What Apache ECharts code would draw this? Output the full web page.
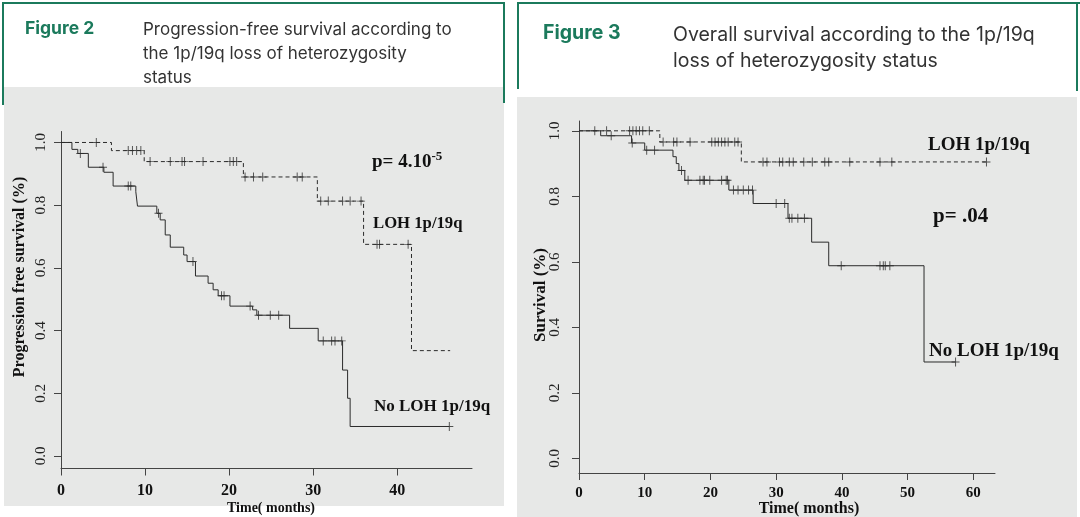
<!DOCTYPE html>
<html>
<head>
<meta charset="utf-8">
<script src="https://cdn.jsdelivr.net/npm/echarts@6/dist/echarts.min.js"></script>
<style>
html,body{margin:0;padding:0;background:#fff;}
#chart{width:1080px;height:517px;}
</style>
</head>
<body>
<div id="chart"></div>
<script>
// ---------- DATA ----------
// Figure 2: Progression-free survival (time in months, survival fraction)
const pfsLohSteps = [[0,1],[6.0,0.974],[9.9,0.939],[21.7,0.89],[30.5,0.813],[36.0,0.675],[41.7,0.336],[46.3,0.336]];
const pfsLohCensor = [4.2,8.0,8.5,9.0,9.5,10.6,13.0,14.4,14.7,16.9,20.1,20.5,20.9,21.9,22.9,24.0,28.1,28.7,30.9,31.8,33.5,34.4,35.7,37.6,37.9,41.3];
const pfsNoLohSteps = [[0,1],[1.3,0.978],[2.0,0.965],[3.25,0.921],[5.1,0.905],[6.2,0.861],[8.9,0.843],[9.1,0.797],[11.4,0.774],[11.8,0.753],[12.4,0.705],[13.0,0.666],[14.6,0.641],[15.0,0.62],[16.0,0.574],[17.5,0.551],[18.1,0.53],[18.7,0.511],[20.1,0.478],[22.8,0.466],[23.3,0.449],[27.2,0.407],[30.6,0.367],[33.5,0.274],[34.1,0.184],[34.4,0.094],[46.2,0.094]];
const pfsNoLohCensor = [2.3,5.0,8.0,8.3,11.6,15.7,19.1,19.4,22.5,23.5,24.9,25.9,31.2,32.2,32.6,33.4,46.2];

// Figure 3: Overall survival
const osLohSteps = [[0,1],[12.3,0.966],[24.7,0.905],[62.0,0.905]];
const osLohCensor = [2.4,4.2,7.7,8.2,8.7,9.2,9.7,10.7,12.8,14.4,14.9,16.9,20.2,20.7,21.2,21.7,22.2,22.7,23.7,24.2,28.0,28.6,30.5,31.0,32.0,32.6,34.2,35.5,37.4,38.0,41.2,45.8,47.6,62.0];
const osNoLohSteps = [[0,1],[3.3,0.985],[8.0,0.963],[10.0,0.941],[14.3,0.921],[14.8,0.9],[15.2,0.879],[16.1,0.849],[22.8,0.819],[26.5,0.778],[31.8,0.733],[35.4,0.66],[38.0,0.588],[52.5,0.294],[57.3,0.294]];
const osNoLohCensor = [4.9,8.1,10.3,11.5,15.6,16.6,18.4,18.9,19.1,19.9,21.7,22.4,22.6,23.5,24.2,25.0,25.8,26.4,30.0,31.3,32.0,32.4,33.3,34.3,39.9,45.8,46.3,46.6,47.3,57.3];

const xTicksPfs = [0,10,20,30,40];
const xTicksOs = [0,10,20,30,40,50,60];
const yTicks = [0,0.2,0.4,0.6,0.8,1.0];

// ---------- HELPERS ----------
function survAt(steps, t){ let s = steps[0][1]; for (const p of steps){ if (p[0] <= t) s = p[1]; else break; } return s; }
function censorPts(steps, times){ return times.map(t => [t, survAt(steps, t)]); }

const GREEN = '#1b7a5c';
const GRAY = '#e7e8e7';
const INK = '#2b2b2b';
const SERIF = '"Liberation Serif", "DejaVu Serif", serif';
const SANS = 'Inter, "Noto Sans", sans-serif';
const PLUS = 'path://M-0.12,-1L0.12,-1L0.12,-0.1L1,-0.1L1,0.1L0.12,0.1L0.12,1L-0.12,1L-0.12,0.1L-1,0.1L-1,-0.1L-0.12,-0.1Z';

function xAxisCfg(grid, max, ticks, fs, margin){
  return {
    gridIndex: grid, type: 'value', min: 0, max: max,
    axisLine: {show: true, onZero: false, lineStyle: {color: '#444', width: 1}},
    axisTick: {show: true, length: 7, customValues: ticks, lineStyle: {color: '#444'}},
    axisLabel: {customValues: ticks, color: '#111', fontFamily: SERIF, fontWeight: 'bold', fontSize: fs, margin: margin},
    splitLine: {show: false}
  };
}
function yAxisCfg(grid, min, max, fs, margin){
  return {
    gridIndex: grid, type: 'value', min: min, max: max,
    axisLine: {show: true, onZero: false, lineStyle: {color: '#444', width: 1}},
    axisTick: {show: true, length: 7, customValues: yTicks, lineStyle: {color: '#444'}},
    axisLabel: {customValues: yTicks, formatter: v => v.toFixed(1), rotate: 90, color: '#222', fontFamily: SERIF, fontSize: fs, margin: margin},
    splitLine: {show: false}
  };
}
function stepLine(xi, data, dashed){
  return {type: 'line', xAxisIndex: xi, yAxisIndex: xi, data: data, step: 'end', symbol: 'none', silent: true,
    lineStyle: {color: INK, width: 1, type: dashed ? [4, 3] : 'solid'}, z: 3};
}
function censor(xi, data){
  return {type: 'scatter', xAxisIndex: xi, yAxisIndex: xi, data: data, symbol: PLUS, symbolSize: [8, 9], silent: true,
    itemStyle: {color: INK}, z: 4};
}

const graphics = [
  // left panel
  {type: 'rect', shape: {x: 4, y: 87, width: 500, height: 419}, style: {fill: GRAY}, z: -10},
  {type: 'line', shape: {x1: 3, y1: 3, x2: 505, y2: 3}, style: {stroke: GREEN, lineWidth: 2}},
  {type: 'line', shape: {x1: 3, y1: 2, x2: 3, y2: 105}, style: {stroke: GREEN, lineWidth: 2}},
  {type: 'line', shape: {x1: 504, y1: 2, x2: 504, y2: 103}, style: {stroke: GREEN, lineWidth: 2}},
  {type: 'text', x: 25, y: 29, style: {text: 'Figure 2', fill: GREEN, font: 'bold 17.5px ' + SANS, verticalAlign: 'middle'}},
  {type: 'text', x: 143, y: 18, style: {text: 'Progression-free survival according to\nthe 1p/19q loss of heterozygosity\nstatus', fill: '#333', font: '17px ' + SANS, lineHeight: 24, verticalAlign: 'top'}},
  // right panel
  {type: 'rect', shape: {x: 517, y: 97, width: 560, height: 420}, style: {fill: GRAY}, z: -10},
  {type: 'line', shape: {x1: 517, y1: 3, x2: 1080, y2: 3}, style: {stroke: GREEN, lineWidth: 2}},
  {type: 'line', shape: {x1: 518, y1: 2, x2: 518, y2: 89}, style: {stroke: GREEN, lineWidth: 2}},
  {type: 'line', shape: {x1: 1077, y1: 2, x2: 1077, y2: 91}, style: {stroke: GREEN, lineWidth: 2}},
  {type: 'text', x: 543, y: 33, style: {text: 'Figure 3', fill: GREEN, font: 'bold 19.5px ' + SANS, verticalAlign: 'middle'}},
  {type: 'text', x: 673, y: 22, style: {text: 'Overall survival according to the 1p/19q\nloss of heterozygosity status', fill: '#333', font: '19.5px ' + SANS, lineHeight: 26, verticalAlign: 'top'}},
  // axis names
  {type: 'text', x: 20, y: 277, rotation: Math.PI / 2, style: {text: 'Progression free survival (%)', fill: '#111', font: 'bold 16px ' + SERIF, align: 'center', verticalAlign: 'middle'}},
  {type: 'text', x: 271, y: 508, style: {text: 'Time( months)', fill: '#111', font: 'bold 14px ' + SERIF, align: 'center', verticalAlign: 'middle'}},
  {type: 'text', x: 541, y: 295, rotation: Math.PI / 2, style: {text: 'Survival (%)', fill: '#111', font: 'bold 17px ' + SERIF, align: 'center', verticalAlign: 'middle'}},
  {type: 'text', x: 809, y: 509, style: {text: 'Time( months)', fill: '#111', font: 'bold 16px ' + SERIF, align: 'center', verticalAlign: 'middle'}},
  // annotations left
  {type: 'text', x: 372, y: 162, style: {text: '{a|p= 4.10}{s|-5}', rich: {a: {font: 'bold 19px ' + SERIF, fill: '#111'}, s: {font: 'bold 13px ' + SERIF, fill: '#111', padding: [0, 0, 10, 0]}}, verticalAlign: 'middle'}},
  {type: 'text', x: 373, y: 224, style: {text: 'LOH 1p/19q', fill: '#111', font: 'bold 16.7px ' + SERIF, verticalAlign: 'middle'}},
  {type: 'text', x: 374, y: 407, style: {text: 'No LOH 1p/19q', fill: '#111', font: 'bold 17px ' + SERIF, verticalAlign: 'middle'}},
  // annotations right
  {type: 'text', x: 928, y: 145, style: {text: 'LOH 1p/19q', fill: '#111', font: 'bold 19px ' + SERIF, verticalAlign: 'middle'}},
  {type: 'text', x: 933, y: 217, style: {text: 'p= .04', fill: '#111', font: 'bold 21px ' + SERIF, verticalAlign: 'middle'}},
  {type: 'text', x: 929, y: 351, style: {text: 'No LOH 1p/19q', fill: '#111', font: 'bold 19px ' + SERIF, verticalAlign: 'middle'}}
];

const chart = echarts.init(document.getElementById('chart'), null, {renderer: 'canvas'});
chart.setOption({
  animation: false,
  backgroundColor: '#ffffff',
  grid: [
    {left: 61, top: 131.5, width: 411, height: 337},
    {left: 579, top: 121, width: 416, height: 352}
  ],
  xAxis: [xAxisCfg(0, 48.9, xTicksPfs, 16, 14), xAxisCfg(1, 63.3, xTicksOs, 15, 13)],
  yAxis: [yAxisCfg(0, -0.04, 1.035, 15, 12), yAxisCfg(1, -0.045, 1.03, 15, 16)],
  series: [
    stepLine(0, pfsLohSteps, true),
    censor(0, censorPts(pfsLohSteps, pfsLohCensor)),
    stepLine(0, pfsNoLohSteps, false),
    censor(0, censorPts(pfsNoLohSteps, pfsNoLohCensor)),
    stepLine(1, osLohSteps, true),
    censor(1, censorPts(osLohSteps, osLohCensor)),
    stepLine(1, osNoLohSteps, false),
    censor(1, censorPts(osNoLohSteps, osNoLohCensor))
  ],
  graphic: graphics
});
</script>
</body>
</html>
